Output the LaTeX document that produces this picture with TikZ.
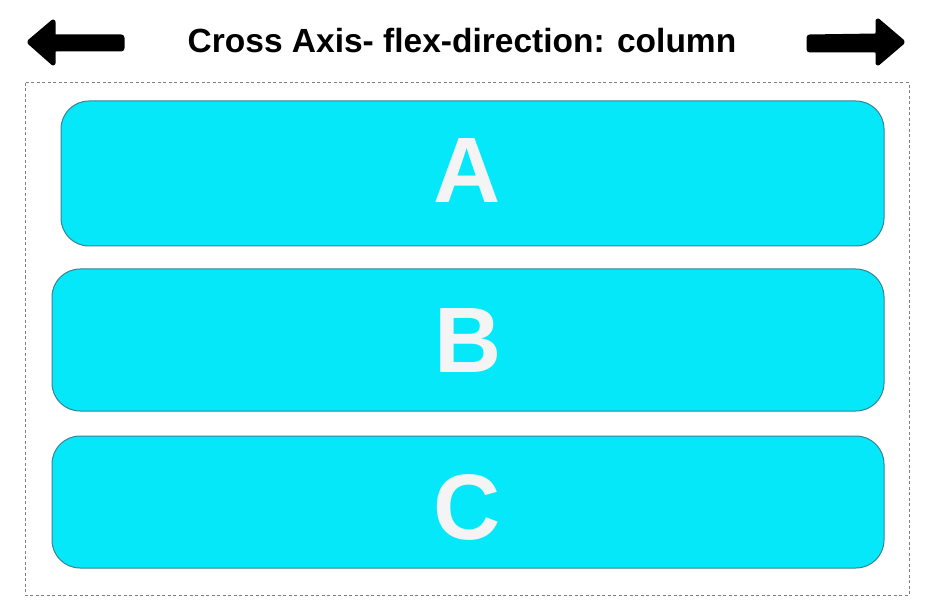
\documentclass[tikz,border=0pt]{standalone}
\usepackage{fontspec}
\setmainfont{Liberation Sans}
\definecolor{boxfill}{HTML}{05E8FA}
\definecolor{boxline}{HTML}{3A8296}
\definecolor{letter}{HTML}{F4F4F4}
\begin{document}
\begin{tikzpicture}[x=1pt,y=-1pt,
  item/.style={draw=boxline,line width=1pt,fill=boxfill,rounded corners=28pt},
  itemlabel/.style={text=letter,font=\fontsize{93}{93}\selectfont\bfseries,inner sep=0pt,anchor=center},
  bigarrow/.style={fill=black,draw=black,line width=3pt,line join=round,rounded corners=2pt}]
\useasboundingbox (0,0) rectangle (931,612);
% title
\node[font=\fontsize{33.5}{33.5}\selectfont\bfseries,anchor=base,inner sep=0pt] (title) at (462,53) {Cross Axis- flex-direction: column};
% arrows
\path[bigarrow] (123,36) -- (54,36) -- (54,20) -- (28,42) -- (54,65) -- (54,50) -- (123,50) -- cycle;
\path[bigarrow] (808,36) -- (877,35) -- (877,19) -- (904,42) -- (877,65) -- (877,51) -- (808,51) -- cycle;
% container
\draw[gray,line width=1pt,dash pattern=on 3pt off 2.5pt] (25,83) rectangle (909,595);
% items
\draw[item] (61,101) rectangle (884,246);
\draw[item] (52,269) rectangle (884,411);
\draw[item] (52,436) rectangle (884,568);
\node[itemlabel] (A) at (467,171) {A};
\node[itemlabel] (B) at (468,341) {B};
\node[itemlabel] (C) at (467,507) {C};
\end{tikzpicture}
\end{document}
